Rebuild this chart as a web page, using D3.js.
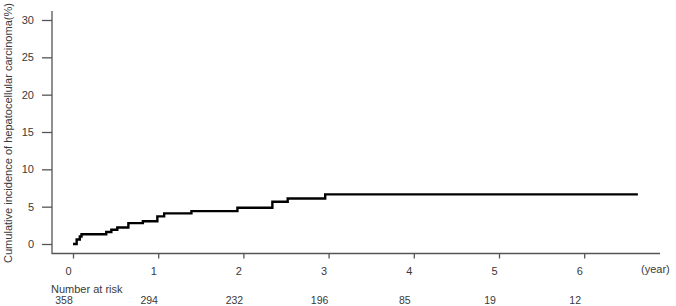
<!DOCTYPE html>
<html lang="en">
<head>
  <meta charset="UTF-8" />
  <title>Cumulative incidence of HCC</title>
  <script src="https://d3js.org/d3.v7.min.js"></script>
  <style>
    html, body { margin: 0; padding: 0; background: #fff; overflow: hidden; }
    svg { display: block; font-family: 'Liberation Sans', Arial, sans-serif; }
    .axis text { fill: #3a3a3a; font-size: 11px; }
    .axis line { stroke: #555; stroke-width: 1.3; }
    .lbl { fill: #3a3a3a; font-size: 11px; }
  </style>
</head>
<body>
  <div id="chart"></div>
  <script>
    // step curve (years, %)
    const times = [0, 0.043, 0.08, 0.10, 0.39, 0.45, 0.52, 0.65, 0.82, 0.99, 1.07, 1.39, 1.93, 2.34, 2.52, 2.96, 6.63];
    const incidence = [0, 0.6, 1.0, 1.3, 1.6, 1.9, 2.2, 2.8, 3.05, 3.7, 4.1, 4.4, 4.85, 5.65, 6.1, 6.65, 6.65];
    const xTicks = [0, 1, 2, 3, 4, 5, 6];
    const yTicks = [0, 5, 10, 15, 20, 25, 30];
    const atRisk = [358, 294, 232, 196, 85, 19, 12];

    const W = 676, H = 306;
    const svg = d3.select("#chart").append("svg").attr("width", W).attr("height", H);

    const x = d3.scaleLinear().domain([0, 6]).range([73, 584.2]);
    const y = d3.scaleLinear().domain([0, 30]).range([244, 20]);

    // L-shaped frame
    svg.append("path")
      .attr("d", `M52,11 V253.5 H660`)
      .attr("fill", "none")
      .attr("stroke", "#555")
      .attr("stroke-width", 1.3);

    const xAxis = svg.append("g")
      .attr("class", "axis")
      .attr("transform", "translate(0,253.5)")
      .call(d3.axisBottom(x).tickValues(xTicks).tickSize(5).tickPadding(9).tickFormat(d3.format("d")));
    xAxis.select(".domain").remove();
    xAxis.selectAll("text").attr("dx", -5);

    const yAxis = svg.append("g")
      .attr("class", "axis")
      .attr("transform", "translate(52,0)")
      .call(d3.axisLeft(y).tickValues(yTicks).tickSize(10).tickPadding(8));
    yAxis.select(".domain").remove();

    svg.append("text")
      .attr("class", "lbl")
      .attr("transform", "translate(12,133) rotate(-90)")
      .attr("text-anchor", "middle")
      .attr("textLength", 260)
      .attr("lengthAdjust", "spacingAndGlyphs")
      .text("Cumulative incidence of hepatocellular carcinoma(%)");

    svg.append("text")
      .attr("class", "lbl")
      .attr("x", 641)
      .attr("y", 273)
      .text("(year)");

    svg.append("text")
      .attr("class", "lbl")
      .attr("x", 51)
      .attr("y", 293)
      .text("Number at risk");

    svg.selectAll(".risk")
      .data(atRisk)
      .join("text")
      .attr("class", "lbl risk")
      .attr("x", (d, i) => x(xTicks[i]) - 9)
      .attr("y", 304)
      .attr("text-anchor", "middle")
      .style("font-size", "10.5px")
      .text(d => d);

    const pts = times.map((t, i) => [t, incidence[i]]);
    svg.append("path")
      .datum(pts)
      .attr("fill", "none")
      .attr("stroke", "#000")
      .attr("stroke-width", 2.4)
      .attr("d", d3.line().x(d => x(d[0])).y(d => y(d[1])).curve(d3.curveStepAfter));
  </script>
</body>
</html>
